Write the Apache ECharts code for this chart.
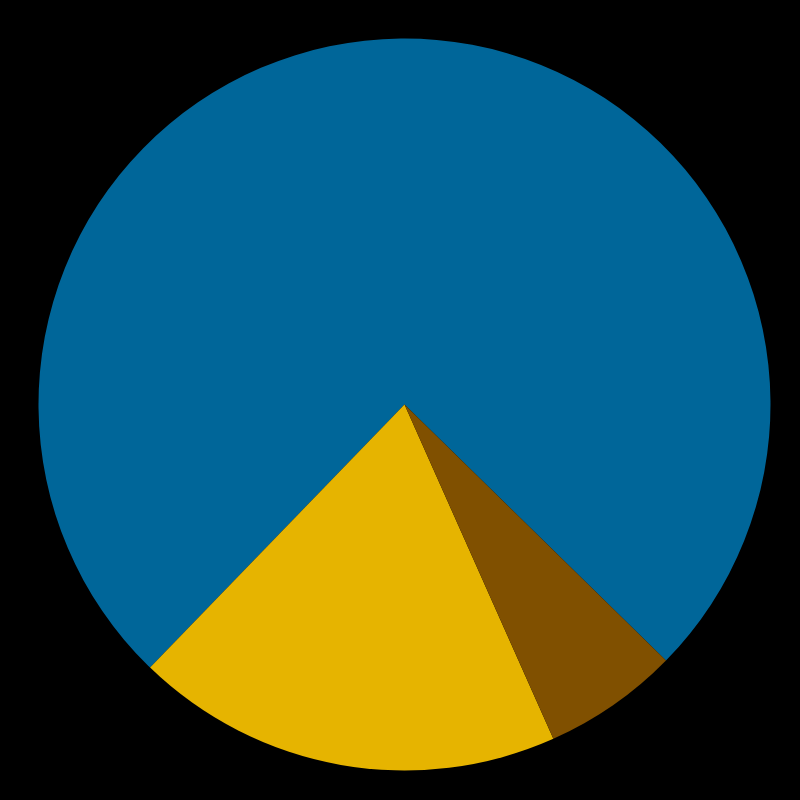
<!DOCTYPE html>
<html>
<head>
<meta charset="utf-8">
<script src="https://cdn.jsdelivr.net/npm/echarts@6/dist/echarts.min.js"></script>
<style>
  html, body { margin: 0; padding: 0; background: #000; }
  #chart { width: 800px; height: 800px; }
</style>
</head>
<body>
<div id="chart"></div>
<script>
// pyramid pie: sky, sunny side, shady side
const categories = ["Sky", "Sunny side of pyramid", "Shady side of pyramid"];
const values = [75.1, 18.9, 6.0];
const colors = ["#006699", "#E6B400", "#805000"];

const chart = echarts.init(document.getElementById("chart"));
chart.setOption({
    backgroundColor: "#000000",
    animation: false,
    series: [{
        type: "pie",
        center: [404.5, 404.5],
        radius: 366,
        startAngle: 315.6,
        clockwise: false,
        label: { show: false },
        labelLine: { show: false },
        emphasis: { disabled: true },
        itemStyle: { borderWidth: 0 },
        data: categories.map((name, i) => ({
            name: name,
            value: values[i],
            itemStyle: { color: colors[i] }
        }))
    }]
});
</script>
</body>
</html>
